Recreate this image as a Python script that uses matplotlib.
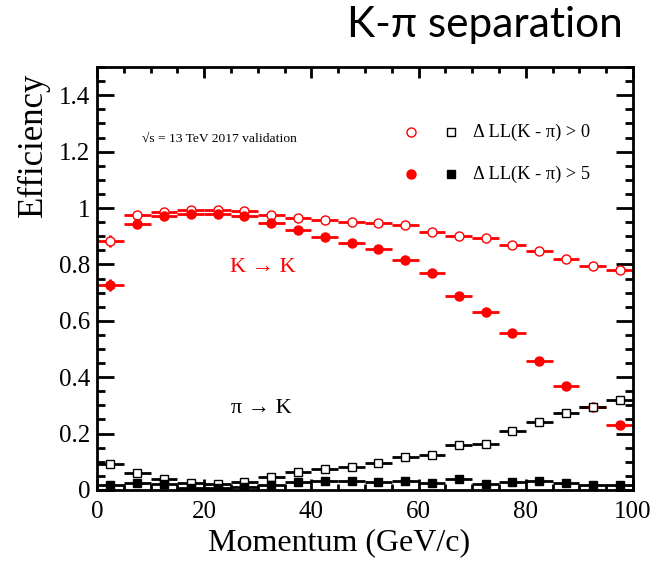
import matplotlib
matplotlib.use("Agg")
import matplotlib.pyplot as plt
import numpy as np
from matplotlib.ticker import MultipleLocator

# momentum bins (GeV/c), 5 GeV wide
bin_centers = [2.5, 7.5, 12.5, 17.5, 22.5, 27.5, 32.5, 37.5, 42.5, 47.5,
               52.5, 57.5, 62.5, 67.5, 72.5, 77.5, 82.5, 87.5, 92.5, 97.5]
bin_half = 2.5

# K -> K efficiency
kk_dll0 = [0.884, 0.975, 0.987, 0.993, 0.993, 0.990, 0.975, 0.963, 0.957, 0.949,
           0.946, 0.941, 0.916, 0.902, 0.892, 0.869, 0.849, 0.820, 0.793, 0.780]
kk_dll5 = [0.727, 0.942, 0.972, 0.978, 0.979, 0.973, 0.948, 0.921, 0.898, 0.877,
           0.855, 0.816, 0.771, 0.689, 0.632, 0.556, 0.459, 0.369, 0.293, 0.232]
kk_err0 = [0.022, 0.006, 0.004, 0.004, 0.004, 0.004, 0.004, 0.004, 0.004, 0.004,
           0.004, 0.004, 0.004, 0.005, 0.005, 0.005, 0.005, 0.006, 0.006, 0.006]
kk_err5 = [0.022, 0.007, 0.004, 0.004, 0.004, 0.004, 0.004, 0.004, 0.004, 0.004,
           0.004, 0.005, 0.005, 0.006, 0.006, 0.007, 0.007, 0.008, 0.008, 0.008]

# pi -> K mis-ID rate
pk_dll0 = [0.092, 0.059, 0.040, 0.026, 0.021, 0.027, 0.047, 0.063, 0.074, 0.082,
           0.094, 0.118, 0.125, 0.160, 0.163, 0.210, 0.240, 0.272, 0.293, 0.319]
pk_dll5 = [0.018, 0.024, 0.021, 0.006, 0.006, 0.012, 0.018, 0.027, 0.031, 0.033,
           0.030, 0.033, 0.025, 0.038, 0.021, 0.028, 0.032, 0.024, 0.019, 0.019]
pk_err0 = [0.006, 0.005, 0.005, 0.004, 0.015, 0.004, 0.004, 0.004, 0.004, 0.004,
           0.004, 0.005, 0.005, 0.005, 0.006, 0.006, 0.006, 0.007, 0.007, 0.008]
pk_err5 = [0.004, 0.004, 0.004, 0.003, 0.010, 0.003, 0.003, 0.003, 0.003, 0.003,
           0.003, 0.003, 0.003, 0.004, 0.004, 0.004, 0.004, 0.004, 0.004, 0.004]

SERIF = ["Liberation Serif", "DejaVu Serif"]
RED = "#ff0000"

fig = plt.figure(figsize=(6.67, 5.70), dpi=100, facecolor="white")
ax = fig.add_axes([0.1454, 0.1404, 0.8036, 0.742])

common = dict(xerr=bin_half, elinewidth=2.0, capsize=0, ls="none")
ax.errorbar(bin_centers, kk_dll0, yerr=kk_err0, fmt="o", color=RED, ms=6.5,
            mfc="white", mec=RED, mew=1.0, **common)
ax.errorbar(bin_centers, kk_dll5, yerr=kk_err5, fmt="o", color=RED, ms=6.5,
            mfc=RED, mec=RED, **common)
ax.errorbar(bin_centers, pk_dll0, yerr=pk_err0, fmt="s", color="black", ms=5.5,
            mfc="white", mec="black", mew=1.0, **common)
ax.errorbar(bin_centers, pk_dll5, yerr=pk_err5, fmt="s", color="black", ms=5.5,
            mfc="black", mec="black", **common)

ax.set_xlim(0, 100)
ax.set_ylim(0, 1.5)
ax.xaxis.set_minor_locator(MultipleLocator(5))
ax.yaxis.set_minor_locator(MultipleLocator(0.05))
ax.set_yticks(np.arange(0, 1.41, 0.2))
ax.set_yticklabels(["0", "0.2", "0.4", "0.6", "0.8", "1", "1.2", "1.4"])
ax.set_xticks([0, 20, 40, 60, 80, 100])
ax.set_xticklabels(["0", "20", "40", "60", "80", "100"])

ax.tick_params(axis="both", which="both", direction="in", top=True, right=True,
               width=2.0, color="black")
ax.tick_params(axis="x", which="major", length=8, pad=8)
ax.tick_params(axis="x", which="minor", length=4)
ax.tick_params(axis="y", which="major", length=12, pad=5)
ax.tick_params(axis="y", which="minor", length=6)
for lab in ax.get_xticklabels() + ax.get_yticklabels():
    lab.set_family(SERIF)
    lab.set_fontsize(18)
for sp in ax.spines.values():
    sp.set_linewidth(2.0)

# axis titles (ROOT style: placed toward the ends)
fig.text(0.508, 0.034, "Momentum (GeV/c)", family=SERIF, fontsize=23,
         ha="center", va="baseline")
fig.text(0.050, 0.872, "Efficiency", family=SERIF, fontsize=25,
         rotation=90, ha="center", va="top")

# annotations
ax.text(8.4, 1.245, "√s = 13 TeV 2017 validation", family=SERIF, fontsize=9.7,
        ha="left", va="center")
ax.text(31.0, 0.79, "K → K", family=SERIF, fontsize=16, color=RED,
        ha="center", va="center")
ax.text(30.6, 0.29, "π → K", family=SERIF, fontsize=16, color="black",
        ha="center", va="center")

# legend drawn by hand, ROOT style
leg_y = [1.27, 1.12]
leg_text = ["Δ LL(K - π) > 0", "Δ LL(K - π) > 5"]
ax.plot([58.6], [leg_y[0]], "o", ms=6.5, mfc="white", mec=RED, mew=1.0)
ax.plot([58.6], [leg_y[1]], "o", ms=6.5, mfc=RED, mec=RED)
ax.plot([66.0], [leg_y[0]], "s", ms=5.5, mfc="white", mec="black", mew=1.0)
ax.plot([66.0], [leg_y[1]], "s", ms=5.5, mfc="black", mec="black")
for yy, tt in zip(leg_y, leg_text):
    ax.text(70.2, yy, tt, family=SERIF, fontsize=13.2, ha="left", va="center")

# slide title
fig.text(0.520, 0.935, "K-π separation", family=["Lato", "DejaVu Sans"],
         fontsize=30.5, ha="left", va="baseline")

fig.savefig("out.png", dpi=100)
